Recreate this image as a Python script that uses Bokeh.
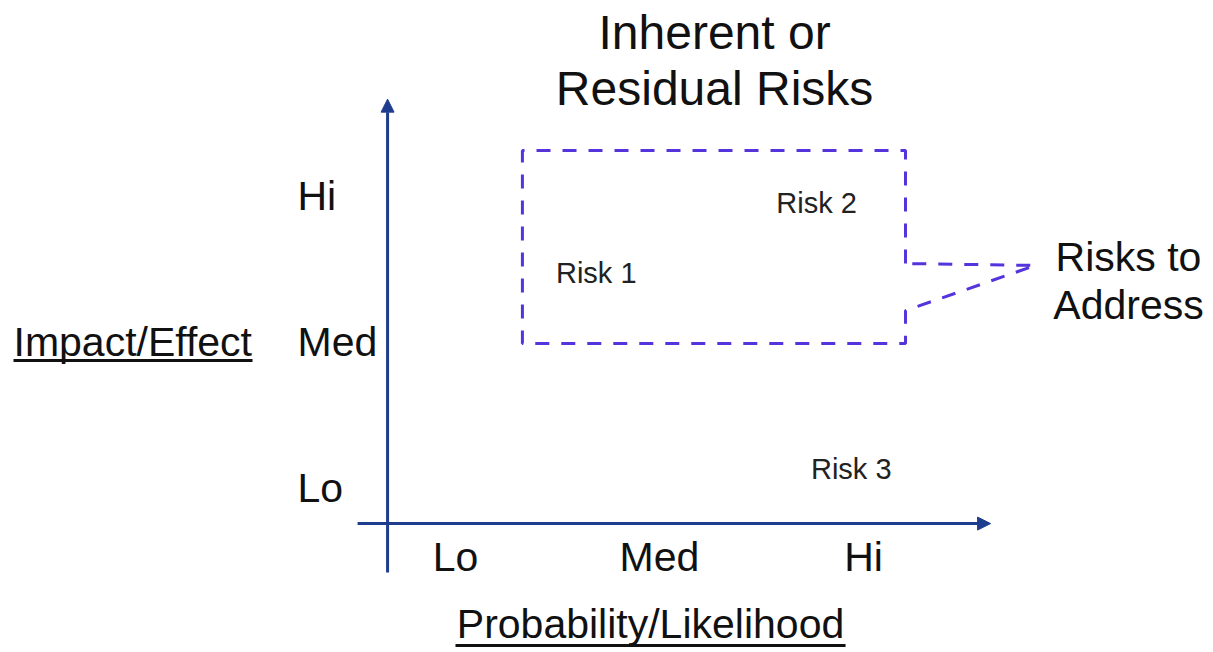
from bokeh.plotting import figure
from bokeh.models import Range1d, Arrow, NormalHead
from bokeh.core.properties import value
from bokeh.embed import file_html
from bokeh.resources import INLINE

# ---- data (levels are 1=Lo, 2=Med, 3=Hi) ----
levels = ["Lo", "Med", "Hi"]
level_pos = [1, 2, 3]

risks = ["Risk 1", "Risk 2", "Risk 3"]
risk_prob = [1.69, 2.77, 2.94]     # probability/likelihood
risk_impact = [2.47, 2.95, 1.13]   # impact/effect

# "Risks to Address" region (probability x impact) with its callout
region_x = [3.206, 3.206, 1.328, 1.328, 3.206, 3.206, 3.843, 3.206]
region_y = [2.534, 3.308, 3.308, 1.986, 1.986, 2.212, 2.521, 2.534]

title_lines = ["Inherent or", "Residual Risks"]
callout_lines = ["Risks to", "Address"]
x_title = "Probability/Likelihood"
y_title = "Impact/Effect"

FONT = value("Liberation Sans")
AXIS_COLOR = "#1F3D8E"
DASH_COLOR = "#5533DD"
TXT = "#111111"

p = figure(width=1210, height=650, output_backend="svg", toolbar_location=None,
           x_range=Range1d(-1.2304, 4.7010), y_range=Range1d(-0.1164, 4.3356),
           min_border=0, min_border_left=0, min_border_right=0,
           min_border_top=0, min_border_bottom=0)
p.axis.visible = False
p.grid.visible = False
p.outline_line_color = None
p.background_fill_color = "white"

# axes with arrows
x_axis_y = 0.753
y_axis_x = 0.667
p.add_layout(Arrow(end=NormalHead(size=13, fill_color=AXIS_COLOR, line_color=AXIS_COLOR),
                   x_start=0.52, y_start=x_axis_y, x_end=3.623, y_end=x_axis_y,
                   line_color=AXIS_COLOR, line_width=3))
p.add_layout(Arrow(end=NormalHead(size=13, fill_color=AXIS_COLOR, line_color=AXIS_COLOR),
                   x_start=y_axis_x, y_start=0.418, x_end=y_axis_x, y_end=3.66,
                   line_color=AXIS_COLOR, line_width=3))

# dashed region + callout
p.line(region_x, region_y, line_color=DASH_COLOR, line_width=3, line_dash="14 12")

# tick labels
p.text(x=level_pos, y=[0.521] * 3, text=levels, text_font=FONT, text_font_size="41px",
       text_align="center", text_baseline="middle", text_color=TXT)
p.text(x=[0.2255] * 3, y=level_pos, text=levels, text_font=FONT, text_font_size="41px",
       text_align="left", text_baseline="middle", text_color=TXT)

# risk labels
p.text(x=risk_prob, y=risk_impact, text=risks, text_font=FONT, text_font_size="29px",
       text_align="center", text_baseline="middle", text_color="#222222")

# title
p.text(x=[2.27, 2.27], y=[4.116, 3.733], text=title_lines, text_font=FONT,
       text_font_size="48px", text_align="center", text_baseline="middle", text_color=TXT)

# callout text
p.text(x=[4.299, 4.299], y=[2.582, 2.253], text=callout_lines, text_font=FONT,
       text_font_size="41px", text_align="center", text_baseline="middle", text_color=TXT)

# axis titles with underline
p.text(x=[-1.1667], y=[2.0], text=[y_title], text_font=FONT, text_font_size="41px",
       text_align="left", text_baseline="middle", text_color=TXT)
p.segment(x0=[-1.1667], y0=[1.870], x1=[0.005], y1=[1.870], line_color=TXT, line_width=3)

p.text(x=[1.956], y=[0.062], text=[x_title], text_font=FONT, text_font_size="41px",
       text_align="center", text_baseline="middle", text_color=TXT)
p.segment(x0=[1.0], y0=[-0.082], x1=[2.912], y1=[-0.082], line_color=TXT, line_width=3)

open("out.html", "w").write(file_html(p, INLINE))
